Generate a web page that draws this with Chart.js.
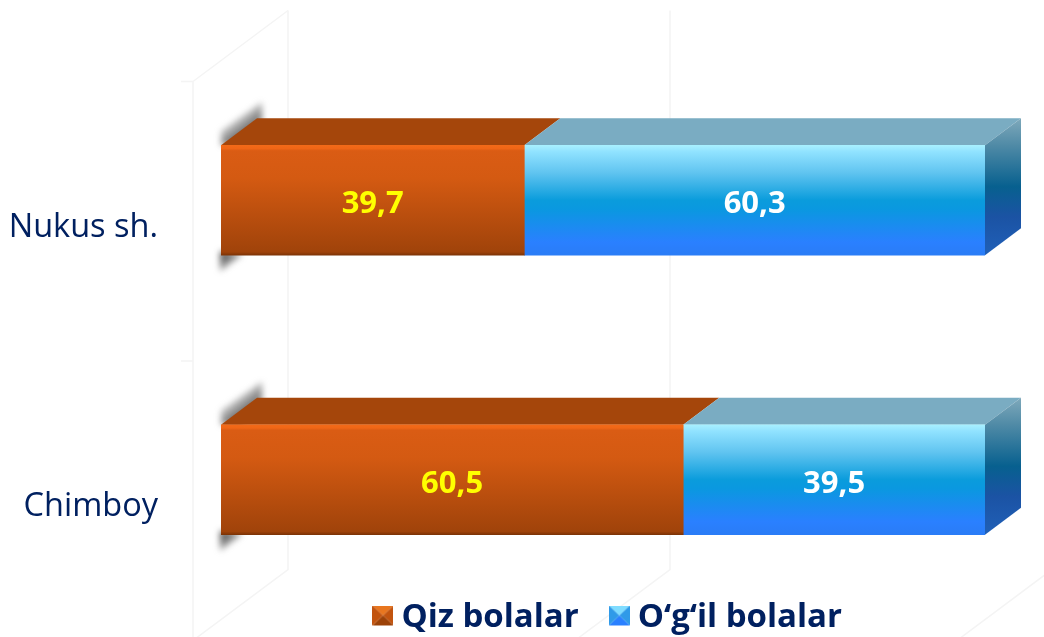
<!DOCTYPE html>
<html>
<head>
<meta charset="utf-8">
<title>Qiz va o'g'il bolalar</title>
<script src="https://cdn.jsdelivr.net/npm/chart.js@4/dist/chart.umd.min.js"></script>
<style>
  html, body { margin: 0; padding: 0; background: #fff; }
  canvas { display: block; }
</style>
</head>
<body>
<canvas id="myChart" width="1044" height="637"></canvas>
<script>
var categories = ["Nukus sh.", "Chimboy"];
var qizValues = [39.7, 60.5];
var ogilValues = [60.3, 39.5];
var seriesNames = ["Qiz bolalar", "O‘g‘il bolalar"];

var navy = "#002060";
var barHeight = 110;
var depthX = 36;
var depthY = -27;

// little pyramid squares for the legend
function makeSwatch(top, right, bottom, left) {
  var c = document.createElement("canvas");
  c.width = 21;
  c.height = 24;
  var g = c.getContext("2d");
  var parts = [
    [top, 0, 0, 21, 0],
    [right, 21, 0, 21, 20],
    [bottom, 21, 20, 0, 20],
    [left, 0, 20, 0, 0]
  ];
  parts.forEach(function (p) {
    g.fillStyle = p[0];
    g.beginPath();
    g.moveTo(p[1], p[2]);
    g.lineTo(p[3], p[4]);
    g.lineTo(10.5, 10);
    g.closePath();
    g.fill();
  });
  return c;
}
var swatches = [
  makeSwatch("#e8761f", "#c2540f", "#9c4208", "#c2540f"),
  makeSwatch("#7fdcff", "#2f9ae8", "#2a80ff", "#2f9ae8")
];

function barGradient(chart, index, stops) {
  var mid = chart.scales.y ? chart.scales.y.getPixelForValue(index) : NaN;
  // the legend asks for the colour before the scales are laid out
  if (!isFinite(mid)) return stops[2][1];
  var g = chart.ctx.createLinearGradient(0, mid - barHeight / 2, 0, mid + barHeight / 2);
  stops.forEach(function (s) { g.addColorStop(s[0], s[1]); });
  return g;
}
var orangeStops = [[0, "#f26a18"], [0.03, "#f06616"], [0.05, "#da5c14"], [0.3, "#d45a12"], [0.97, "#a0430a"], [1, "#7c3306"]];
var blueStops = [[0, "#a8f0ff"], [0.06, "#90e2ff"], [0.25, "#60c4f0"], [0.5, "#0a9cdc"], [0.58, "#0a98e0"], [0.88, "#2a80ff"], [1, "#2a7cf6"]];

var faces = {
  id: "faces",
  afterLayout: function (chart) {
    // legend sits over the bottom of the plot, the plot keeps its full height
    var lg = chart.legend;
    lg.top = 601 - lg.options.labels.padding;
    lg.bottom = lg.top + lg.height;
    lg.left += 119;
    lg.right += 119;
  },
  beforeDraw: function (chart) {
    var ctx = chart.ctx;
    var x = chart.scales.x;
    var area = chart.chartArea;

    // faint walls, under the legend
    ctx.save();
    ctx.strokeStyle = "#f4f4f4";
    ctx.lineWidth = 1.5;
    x.ticks.forEach(function (t) {
      var px = x.getPixelForValue(t.value);
      ctx.beginPath();
      ctx.moveTo(px + 67, area.top - 50);
      ctx.lineTo(px + 67, area.bottom - 50);
      ctx.lineTo(px - 28, area.bottom + 21);
      ctx.stroke();
    });
    var wallX = x.getPixelForValue(0) - 28;
    ctx.beginPath();
    ctx.moveTo(wallX, area.top + 21);
    ctx.lineTo(wallX, area.bottom + 21);
    ctx.moveTo(wallX, area.top + 21);
    ctx.lineTo(wallX + 95, area.top - 50);
    [area.top, (area.top + area.bottom) / 2].forEach(function (y) {
      ctx.moveTo(wallX - 12, y + 21);
      ctx.lineTo(wallX, y + 21);
    });
    ctx.stroke();
    ctx.restore();
  },
  beforeDatasetsDraw: function (chart) {
    var ctx = chart.ctx;
    var first = chart.getDatasetMeta(0).data;
    var second = chart.getDatasetMeta(1).data;

    first.forEach(function (bar, i) {
      var left = bar.base;
      var split = bar.x;
      var end = second[i].x;
      var top = bar.y - barHeight / 2;
      var bottom = bar.y + barHeight / 2;

      // soft shadow at the left end
      ctx.save();
      ctx.filter = "blur(3px)";
      var fade = ctx.createLinearGradient(left + 16, top - 3, left + 3, top - 20);
      fade.addColorStop(0, "rgba(70,70,70,0.95)");
      fade.addColorStop(1, "rgba(130,130,130,0.35)");
      ctx.fillStyle = fade;
      ctx.beginPath();
      ctx.moveTo(left, top - 14);
      ctx.lineTo(left + 41, top - 43);
      ctx.lineTo(left + 41, top - 26);
      ctx.lineTo(left + 20, top);
      ctx.lineTo(left, top);
      ctx.closePath();
      ctx.fill();
      fade = ctx.createLinearGradient(left + 4, bottom, left + 14, bottom + 14);
      fade.addColorStop(0, "rgba(70,70,70,0.9)");
      fade.addColorStop(1, "rgba(130,130,130,0.35)");
      ctx.fillStyle = fade;
      ctx.beginPath();
      ctx.moveTo(left - 1, bottom - 4);
      ctx.lineTo(left - 1, bottom + 16);
      ctx.lineTo(left + 22, bottom - 1);
      ctx.closePath();
      ctx.fill();
      ctx.restore();

      // top faces
      ctx.fillStyle = "#a5460b";
      ctx.beginPath();
      ctx.moveTo(left, top);
      ctx.lineTo(left + depthX, top + depthY);
      ctx.lineTo(split + depthX, top + depthY);
      ctx.lineTo(split, top);
      ctx.closePath();
      ctx.fill();

      ctx.fillStyle = "#7aacc2";
      ctx.beginPath();
      ctx.moveTo(split, top);
      ctx.lineTo(split + depthX, top + depthY);
      ctx.lineTo(end + depthX, top + depthY);
      ctx.lineTo(end, top);
      ctx.closePath();
      ctx.fill();

      // side face
      var side = ctx.createLinearGradient(0, top + depthY, 0, bottom);
      side.addColorStop(0, "#7fa9bb");
      side.addColorStop(0.2, "#4f8aa6");
      side.addColorStop(0.5, "#07608f");
      side.addColorStop(0.72, "#1b53a4");
      side.addColorStop(1, "#2060b8");
      ctx.fillStyle = side;
      ctx.beginPath();
      ctx.moveTo(end, top);
      ctx.lineTo(end + depthX, top + depthY);
      ctx.lineTo(end + depthX, bottom + depthY);
      ctx.lineTo(end, bottom);
      ctx.closePath();
      ctx.fill();
    });
  },
  afterDatasetsDraw: function (chart) {
    var ctx = chart.ctx;
    ctx.save();
    ctx.font = "bold 31px 'Open Sans'";
    ctx.textAlign = "center";
    ctx.textBaseline = "middle";
    chart.data.datasets.forEach(function (ds, d) {
      ctx.fillStyle = d === 0 ? "#ffff00" : "#ffffff";
      chart.getDatasetMeta(d).data.forEach(function (bar, i) {
        var text = String(ds.data[i]).replace(".", ",");
        ctx.fillText(text, (bar.base + bar.x) / 2, bar.y + 4);
      });
    });
    ctx.restore();
  }
};

new Chart("myChart", {
  type: "bar",
  data: {
    labels: categories,
    datasets: [{
      label: seriesNames[0],
      data: qizValues,
      pointStyle: swatches[0],
      barThickness: barHeight,
      backgroundColor: function (c) { return barGradient(c.chart, c.dataIndex, orangeStops); }
    }, {
      label: seriesNames[1],
      data: ogilValues,
      pointStyle: swatches[1],
      barThickness: barHeight,
      backgroundColor: function (c) { return barGradient(c.chart, c.dataIndex, blueStops); }
    }]
  },
  plugins: [faces],
  options: {
    indexAxis: "y",
    responsive: false,
    animation: false,
    layout: {
      padding: { top: 60.5, right: 59, left: 0, bottom: -64 }
    },
    scales: {
      x: {
        stacked: true,
        min: 0,
        max: 100,
        border: { display: false },
        grid: { display: false, drawTicks: false },
        ticks: { display: false, stepSize: 50 }
      },
      y: {
        stacked: true,
        border: { display: false },
        grid: { display: false, drawTicks: false },
        afterFit: function (scale) {
          scale.width = 221;
          // tick padding would otherwise eat into the plot height
          scale.paddingTop = 0;
          scale.paddingBottom = 0;
        },
        ticks: {
          color: navy,
          padding: 63,
          labelOffset: 27,
          font: { family: "'Open Sans'", size: 32.5 }
        }
      }
    },
    plugins: {
      tooltip: { enabled: false },
      legend: {
        display: true,
        position: "bottom",
        labels: {
          usePointStyle: true,
          pointStyleWidth: 4,
          padding: 38.5,
          color: navy,
          font: { family: "'Open Sans'", size: 33, weight: "bold" }
        }
      }
    }
  }
});
</script>
</body>
</html>
